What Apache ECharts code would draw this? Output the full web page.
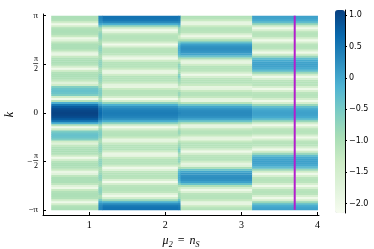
<!DOCTYPE html>
<html>
<head>
<meta charset="utf-8">
<script src="https://cdn.jsdelivr.net/npm/echarts@6/dist/echarts.min.js"></script>
<style>
html, body { margin: 0; padding: 0; background: #fff; }
#chart { width: 374px; height: 249px; }
</style>
</head>
<body>
<div id="chart"></div>
<script>
// mu_2 edges of the columns (one k-profile per column)
var muEdges = [0.5, 1.12, 1.17, 2.165, 2.2, 3.14, 4.0];
// k samples 0, pi/48, ... pi ; the plot is mirrored for k < 0
var kSteps = 48;

var prof1 = [1.05, 1.02, 0.95, 0.8, 0.5, -0.1, -1.1, -2.0, -1.4, -0.55,
  -0.4, -0.35, -0.4, -0.6, -1.4, -1.7, -1.25, -1.05, -1.0, -1.0,
  -1.05, -1.4, -2.0, -1.5, -1.1, -1.0, -1.0, -1.05, -1.3, -1.9,
  -1.75, -1.2, -1.0, -1.0, -1.0, -1.2, -1.7, -1.95, -1.3, -1.05,
  -1.0, -1.0, -1.05, -1.5, -2.0, -1.45, -1.05, -1.0, -1.0];
var prof12 = [0.65, 0.62, 0.55, 0.4, 0.1, -0.3, -0.8, -1.1, -0.8, -0.6,
  -0.55, -0.55, -0.65, -0.9, -1.0, -0.85, -0.75, -0.7, -0.7, -0.75,
  -0.9, -1.0, -0.95, -0.75, -0.7, -0.7, -0.75, -0.95, -1.0, -0.9,
  -0.8, -0.7, -0.7, -0.75, -0.95, -1.0, -0.9, -0.75, -0.7, -0.7,
  -0.8, -1.0, -0.9, -0.5, -0.05, 0.2, 0.3, 0.35, 0.35];
var prof2 = [0.45, 0.42, 0.35, 0.2, -0.1, -0.7, -1.5, -2.05, -1.5, -1.15,
  -1.1, -1.1, -1.3, -1.85, -1.8, -1.3, -1.1, -1.1, -1.1, -1.4,
  -1.9, -1.85, -1.3, -1.1, -1.1, -1.1, -1.4, -2.0, -1.7, -1.2,
  -1.1, -1.1, -1.15, -1.6, -2.05, -1.5, -1.15, -1.1, -1.1, -1.2,
  -1.7, -2.0, -1.5, -0.8, -0.1, 0.3, 0.5, 0.55, 0.55];
var prof23 = [0.35, 0.3, 0.2, 0.0, -0.4, -0.9, -1.3, -1.4, -1.0, -0.8,
  -0.8, -1.0, -1.4, -1.5, -1.1, -0.9, -0.8, -0.7, -0.5, -0.6,
  -0.9, -1.0, -0.8, -0.7, -0.7, -1.0, -1.3, -1.0, -0.5, -0.2,
  -0.1, -0.05, -0.05, -0.1, -0.3, -0.6, -1.0, -1.3, -1.4, -1.1,
  -0.9, -0.9, -0.8, -0.4, 0.0, 0.3, 0.45, 0.5, 0.5];
var prof3 = [0.3, 0.28, 0.2, 0.0, -0.4, -1.1, -1.85, -1.8, -1.25, -1.1,
  -1.1, -1.3, -1.8, -1.85, -1.3, -1.1, -1.1, -1.15, -1.5, -2.0,
  -1.5, -1.15, -1.1, -1.1, -1.4, -1.85, -1.7, -1.0, -0.4, 0.0,
  0.15, 0.22, 0.25, 0.2, 0.05, -0.35, -1.0, -1.5, -1.95, -1.6,
  -1.15, -1.1, -1.1, -1.3, -1.85, -1.85, -1.3, -1.1, -1.05];
var prof4 = [0.05, 0.03, -0.05, -0.3, -0.8, -1.5, -2.0, -1.5, -1.15, -1.1,
  -1.15, -1.55, -2.0, -1.55, -1.15, -1.1, -1.15, -1.55, -2.0, -1.4,
  -0.8, -0.3, -0.05, 0.03, 0.05, 0.03, -0.05, -0.3, -0.8, -1.4,
  -2.0, -1.55, -1.15, -1.1, -1.15, -1.55, -2.0, -1.55, -1.15, -1.1,
  -1.15, -1.55, -2.0, -1.5, -0.8, -0.3, -0.05, 0.03, 0.05];
var columns = [prof1, prof12, prof2, prof23, prof3, prof4];

var markerMu = 3.7;
var xTicks = [1, 2, 3, 4];
var yTicks = [-Math.PI, -Math.PI / 2, 0, Math.PI / 2, Math.PI];
var cbTicks = [-2, -1.5, -1, -0.5, 0, 0.5, 1];
var cbMin = -2.15, cbMax = 1.08;
var gnbu = ['#f7fcf0', '#e0f3db', '#ccebc5', '#a8ddb5', '#7bccc4', '#4eb3d3', '#2b8cbe', '#0868ac', '#084081'];

var cells = [];
var dk = Math.PI / kSteps;
columns.forEach(function (prof, c) {
  for (var i = -kSteps; i <= kSteps; i++) {
    var k = i * dk;
    var y0 = Math.max(-Math.PI, k - dk / 2);
    var y1 = Math.min(Math.PI, k + dk / 2);
    cells.push([muEdges[c], muEdges[c + 1], y0, y1, prof[Math.abs(i)]]);
  }
});

function renderCell(params, api) {
  var a = api.coord([api.value(0), api.value(3)]);
  var b = api.coord([api.value(1), api.value(2)]);
  return {
    type: 'rect',
    shape: { x: a[0], y: a[1], width: b[0] - a[0] + 0.4, height: b[1] - a[1] + 0.4 },
    style: { fill: api.visual('color') }
  };
}

function kLabel(v) {
  var r = Math.round(v / (Math.PI / 2));
  return ['{p|−π}', '{f|π}\n{m|−}{b|─}\n{f|2}', '{p|0}', '{f|π}\n{b|─}\n{f|2}', '{p|π}'][r + 2];
}

function cbLabel(v) {
  if (Math.abs(v) < 1e-9) return '0';
  return (v < 0 ? '−' : '') + Math.abs(v).toFixed(1);
}

var serif = 'Liberation Serif';
var chart = echarts.init(document.getElementById('chart'));
chart.setOption({
  animation: false,
  grid: [
    { left: 43, top: 14, width: 276, height: 201, outerBoundsMode: 'none', containLabel: false },
    { left: 335, top: 10, width: 10, height: 203, outerBoundsMode: 'none', containLabel: false }
  ],
  xAxis: [{
    type: 'value', min: 0.392, max: 4.019,
    name: '{i|μ}{s|2}{t| = }{i|n}{s|S}',
    nameLocation: 'middle', nameGap: 16,
    nameTextStyle: {
      rich: {
        i: { fontFamily: serif, fontStyle: 'italic', fontSize: 12, color: '#000' },
        t: { fontFamily: serif, fontSize: 12, color: '#000', padding: [0, 2, 0, 2] },
        s: { fontFamily: serif, fontStyle: 'italic', fontSize: 8, color: '#000', padding: [8, 0, 0, 0] }
      }
    },
    axisLine: { onZero: false, lineStyle: { color: '#000', width: 1 } },
    axisTick: { inside: true, length: 3, customValues: xTicks, lineStyle: { color: '#000' } },
    axisLabel: { customValues: xTicks, margin: 5, fontFamily: serif, fontSize: 10, color: '#000' },
    splitLine: { show: false }
  }, {
    gridIndex: 1, type: 'value', show: false, min: 0, max: 1
  }],
  yAxis: [{
    type: 'value', min: -3.308, max: 3.197,
    name: 'k', nameLocation: 'middle', nameGap: 26, nameRotate: 90,
    nameTextStyle: { fontFamily: serif, fontStyle: 'italic', fontSize: 12, color: '#000' },
    axisLine: { onZero: false, lineStyle: { color: '#000', width: 1 } },
    axisTick: { inside: true, length: 3, customValues: yTicks, lineStyle: { color: '#000' } },
    axisLabel: {
      customValues: yTicks, margin: 5, formatter: kLabel,
      rich: {
        p: { fontFamily: serif, fontSize: 9, color: '#000' },
        f: { fontFamily: serif, fontSize: 8, lineHeight: 8, color: '#000' },
        b: { fontFamily: 'DejaVu Sans', fontSize: 8, lineHeight: 2, color: '#000' },
        m: { fontFamily: serif, fontSize: 9, lineHeight: 2, color: '#000', padding: [0, 1, 0, 0] }
      }
    },
    splitLine: { show: false }
  }, {
    gridIndex: 1, type: 'value', min: cbMin, max: cbMax, position: 'right',
    axisLine: { show: true, onZero: false, lineStyle: { color: '#000', width: 1 } },
    axisTick: { show: true, length: 2, customValues: cbTicks, lineStyle: { color: '#000' } },
    axisLabel: { customValues: cbTicks, margin: 4, formatter: cbLabel, fontFamily: 'DejaVu Sans', fontSize: 8, color: '#000' },
    splitLine: { show: false }
  }],
  visualMap: {
    type: 'continuous', seriesIndex: 0, dimension: 4,
    min: cbMin, max: cbMax, calculable: false, hoverLink: false,
    orient: 'vertical', left: 335, top: 10, padding: 0,
    itemWidth: 10, itemHeight: 203, text: null, showLabel: false,
    inRange: { color: gnbu }
  },
  series: [{
    type: 'custom', renderItem: renderCell, data: cells,
    encode: { x: [0, 1], y: [2, 3] }, clip: true, silent: true
  }, {
    type: 'line', data: [[markerMu, -Math.PI], [markerMu, Math.PI]],
    symbol: 'none', silent: true, z: 5,
    lineStyle: { color: '#b41ecd', width: 2 }
  }]
});
</script>
</body>
</html>
